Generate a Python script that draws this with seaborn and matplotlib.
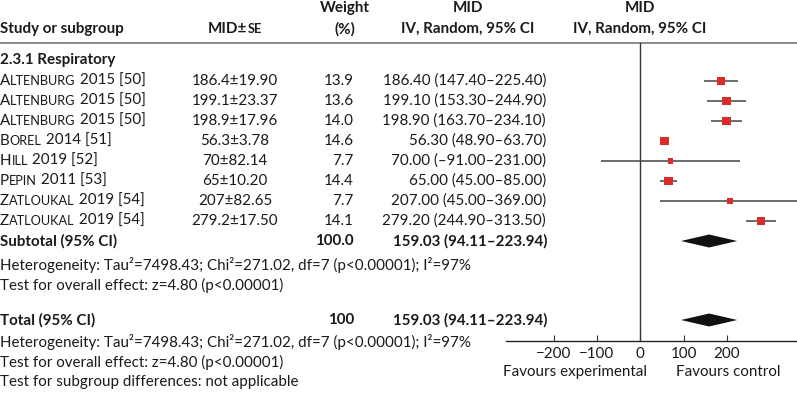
import matplotlib
matplotlib.use("Agg")
import numpy as np
import pandas as pd
import matplotlib.pyplot as plt
import seaborn as sns
from matplotlib.offsetbox import TextArea, HPacker, AnnotationBbox

# study data
studies = ["Altenburg 2015 [50]", "Altenburg 2015 [50]", "Altenburg 2015 [50]",
           "Borel 2014 [51]", "Hill 2019 [52]", "Pepin 2011 [53]",
           "Zatloukal 2019 [54]", "Zatloukal 2019 [54]"]
mid_se = ["186.4±19.90", "199.1±23.37", "198.9±17.96", "56.3±3.78",
          "70±82.14", "65±10.20", "207±82.65", "279.2±17.50"]
mid = [186.40, 199.10, 198.90, 56.30, 70.00, 65.00, 207.00, 279.20]
ci_low = [147.40, 153.30, 163.70, 48.90, -91.00, 45.00, 45.00, 244.90]
ci_high = [225.40, 244.90, 234.10, 63.70, 231.00, 85.00, 369.00, 313.50]
weights = [13.9, 13.6, 14.0, 14.6, 7.7, 14.4, 7.7, 14.1]

pooled = 159.03
pooled_low = 94.11
pooled_high = 223.94

xticks = [-200, -100, 0, 100, 200]

het_text = "Heterogeneity: Tau²=7498.43; Chi²=271.02, df=7 (p<0.00001); I²=97%"
effect_text = "Test for overall effect: z=4.80 (p<0.00001)"

sns.set_style("white")
plt.rcParams['font.family'] = ['Lato', 'DejaVu Sans']
FS = 10.9
BLACK = "#1a1a1a"

fig = plt.figure(figsize=(7.97, 3.93), dpi=100)
bg = fig.add_axes([0, 0, 1, 1])
bg.set_xlim(0, 797)
bg.set_ylim(393, 0)
bg.axis("off")


def fmt(v):
    s = f"{abs(v):.2f}"
    return ("–" + s) if v < 0 else s


def smallcaps(x, y, parts, bold=False, align=(0, 0.5)):
    # parts: list of (text, is_small)
    w = "bold" if bold else "normal"
    areas = [TextArea(t, textprops=dict(fontsize=FS * (0.84 if sm else 1), fontweight=w, color=BLACK))
             for t, sm in parts]
    box = HPacker(children=areas, pad=0, sep=0, align="baseline")
    ab = AnnotationBbox(box, (x, y), xycoords="data", box_alignment=align,
                        frameon=False, pad=0)
    bg.add_artist(ab)


def name_parts(name):
    surname, rest = name.split(" ", 1)
    return [(surname[0], False), (surname[1:].upper(), True), (" " + rest, False)]


# header
bg.text(0, 29, "Study or subgroup", fontsize=FS, fontweight="bold", va="center", color=BLACK)
smallcaps(235, 29, [("MID±", False), ("SE", True)], bold=True, align=(0.5, 0.5))
bg.text(345, 8, "Weight", fontsize=FS, fontweight="bold", ha="center", va="center", color=BLACK)
bg.text(345, 29, "(%)", fontsize=FS, fontweight="bold", ha="center", va="center", color=BLACK)
for cx in (468, 640):
    bg.text(cx, 8, "MID", fontsize=FS, fontweight="bold", ha="center", va="center", color=BLACK)
    bg.text(cx, 29, "IV, Random, 95% CI", fontsize=FS, fontweight="bold", ha="center", va="center", color=BLACK)
bg.hlines(43, 0, 797, color="#777777", lw=1.2)

bg.text(0, 60, "2.3.1 Respiratory", fontsize=FS, fontweight="bold", va="center", color=BLACK)

row_y = [81 + 20 * i for i in range(len(studies))]
for i, y in enumerate(row_y):
    smallcaps(0, y, name_parts(studies[i]))
    bg.text(235, y, mid_se[i], fontsize=FS, ha="center", va="center", color=BLACK)
    bg.text(354, y, f"{weights[i]:.1f}", fontsize=FS, ha="right", va="center", color=BLACK)
    bg.text(546, y, f"{mid[i]:.2f} ({fmt(ci_low[i])}–{fmt(ci_high[i])})",
            fontsize=FS, ha="right", va="center", color=BLACK)

sub_y = row_y[-1] + 20
total_y = 320
pooled_str = f"{pooled:.2f} ({fmt(pooled_low)}–{fmt(pooled_high)})"
bg.text(0, sub_y, "Subtotal (95% CI)", fontsize=FS, fontweight="bold", va="center", color=BLACK)
bg.text(354, sub_y, f"{sum(weights):.1f}", fontsize=FS, fontweight="bold", ha="right", va="center", color=BLACK)
bg.text(547, sub_y, pooled_str, fontsize=FS, fontweight="bold", ha="right", va="center", color=BLACK)
bg.text(0, 265, het_text, fontsize=FS, va="center", color=BLACK)
bg.text(0, 285, effect_text, fontsize=FS, va="center", color=BLACK)

bg.text(0, total_y, "Total (95% CI)", fontsize=FS, fontweight="bold", va="center", color=BLACK)
bg.text(354, total_y, "100", fontsize=FS, fontweight="bold", ha="right", va="center", color=BLACK)
bg.text(547, total_y, pooled_str, fontsize=FS, fontweight="bold", ha="right", va="center", color=BLACK)
bg.text(0, 342, het_text, fontsize=FS, va="center", color=BLACK)
bg.text(0, 362, effect_text, fontsize=FS, va="center", color=BLACK)
bg.text(0, 382, "Test for subgroup differences: not applicable", fontsize=FS, va="center", color=BLACK)

bg.text(575, 372, "Favours experimental", fontsize=FS, ha="center", va="center", color=BLACK)
bg.text(728, 372, "Favours control", fontsize=FS, ha="center", va="center", color=BLACK)

# forest panel
ax = fig.add_axes([506 / 797, 1 - 341 / 393, 291 / 797, (341 - 43) / 393])
ax.patch.set_alpha(0)
ax.set_xlim(-310, 362)
ax.set_ylim(341, 43)

df = pd.DataFrame({"mid": mid, "y": row_y, "weight": weights,
                   "lo": ci_low, "hi": ci_high})
ax.hlines(df["y"], df["lo"], df["hi"], color="#444444", lw=1.1, zorder=2)
sns.scatterplot(data=df, x="mid", y="y", size="weight", sizes=(16, 38), marker="s",
                color="#dc2b2b", edgecolor="none", legend=False, ax=ax, zorder=3)

for yy in (sub_y, total_y):
    ax.fill([pooled_low, pooled, pooled_high, pooled], [yy, yy - 6.5, yy, yy + 6.5],
            color="#111111", lw=0, zorder=3)

ax.axvline(0, color="#333333", lw=1, zorder=1)
sns.despine(ax=ax, left=True, top=True, right=True)
ax.spines["bottom"].set_color("#222222")
ax.spines["bottom"].set_linewidth(1)
ax.set_yticks([])
ax.set_xticks(xticks)
ax.set_xticklabels([f"{t}".replace("-", "−") for t in xticks])
ax.tick_params(axis="x", direction="in", length=4, width=0.8, color="#333333",
               labelsize=FS, labelcolor=BLACK, pad=4, bottom=True)
ax.set_xlabel("")
ax.set_ylabel("")

fig.savefig("out.png", dpi=100)
